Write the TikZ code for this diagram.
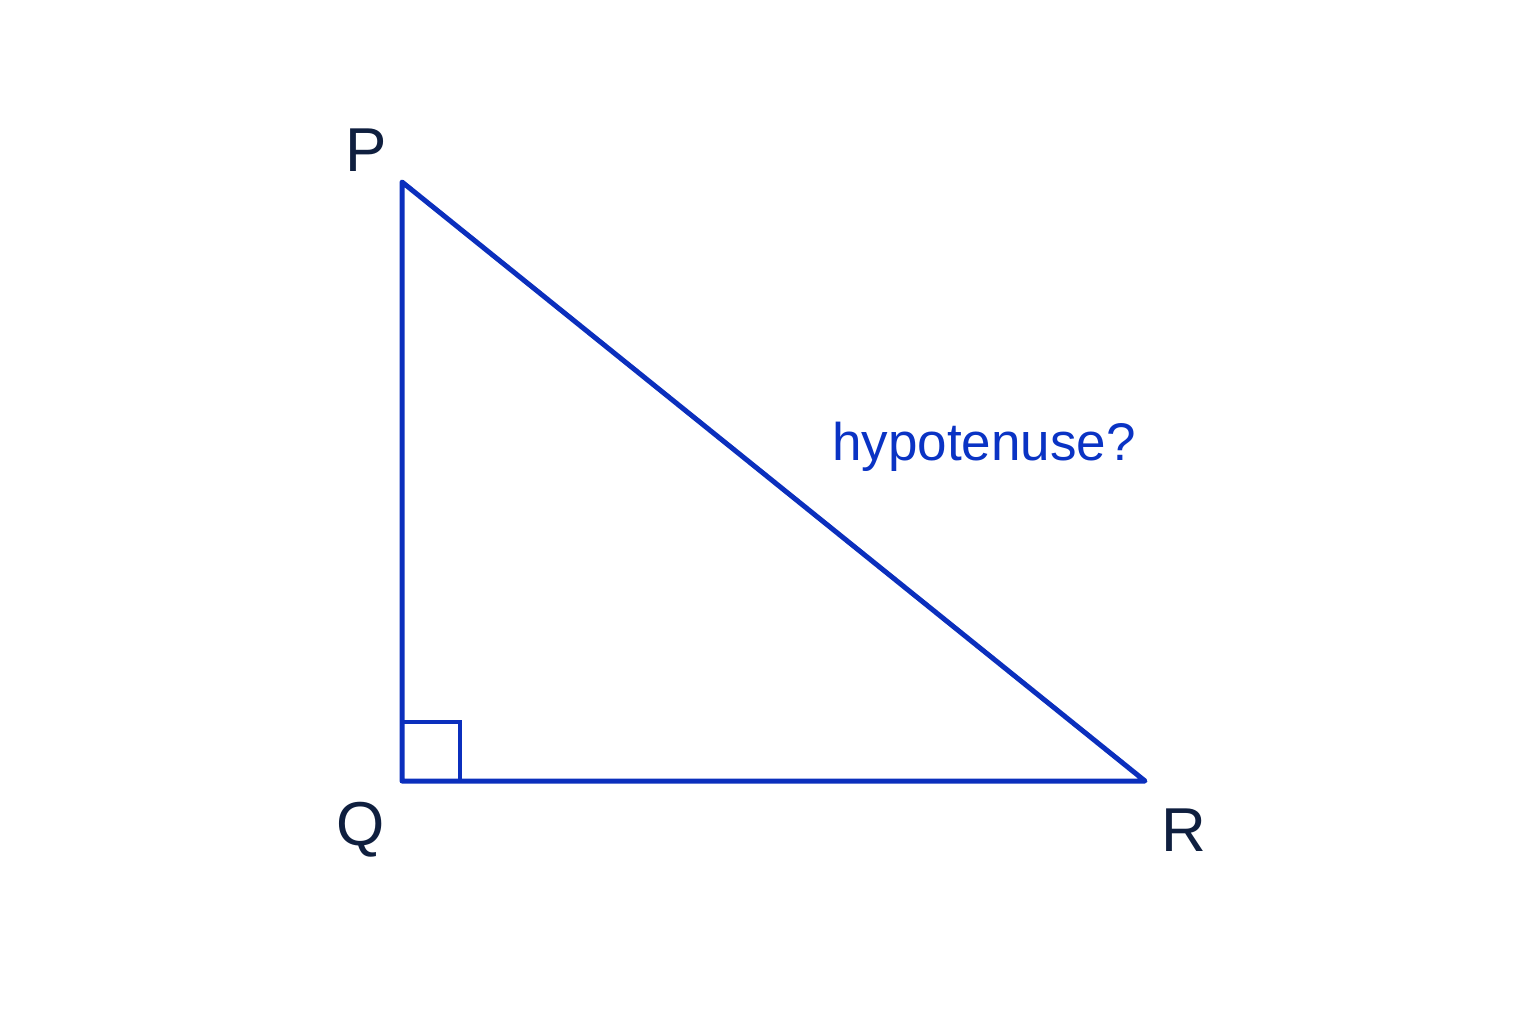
\documentclass[tikz,border=0pt]{standalone}
\usepackage{fontspec}
\setmainfont{Liberation Sans}
\definecolor{edgeblue}{HTML}{0B2FBD}
\definecolor{textblue}{HTML}{0A33C4}
\definecolor{labeldark}{HTML}{0F1F3F}
\tikzset{
  side/.style={draw=edgeblue, line width=5pt, line join=round, line cap=round},
  rightmark/.style={draw=edgeblue, line width=4pt},
  vlabel/.style={text=labeldark, font=\fontsize{62}{62}\selectfont, inner sep=0pt},
  hyplabel/.style={text=textblue, font=\fontsize{53}{53}\selectfont, inner sep=0pt}
}
\begin{document}
\begin{tikzpicture}[x=1pt,y=-1pt]
\useasboundingbox (0,0) rectangle (1536,1024);
\coordinate (P) at (402,182);
\coordinate (Q) at (402,781);
\coordinate (R) at (1145,781);
\draw[side] (P) -- (Q) -- (R) -- cycle;
\coordinate (m1) at (402,722);
\coordinate (m2) at (460,722);
\coordinate (m3) at (460,781);
\draw[rightmark] (m1) -- (m2) -- (m3);
\node[vlabel] (lP) at (366,150) {P};
\node[vlabel] (lQ) at (361,830) {Q};
\node[vlabel] (lR) at (1184,830) {R};
\node[hyplabel] (hyp) at (984,447) {hypotenuse?};
\end{tikzpicture}
\end{document}
